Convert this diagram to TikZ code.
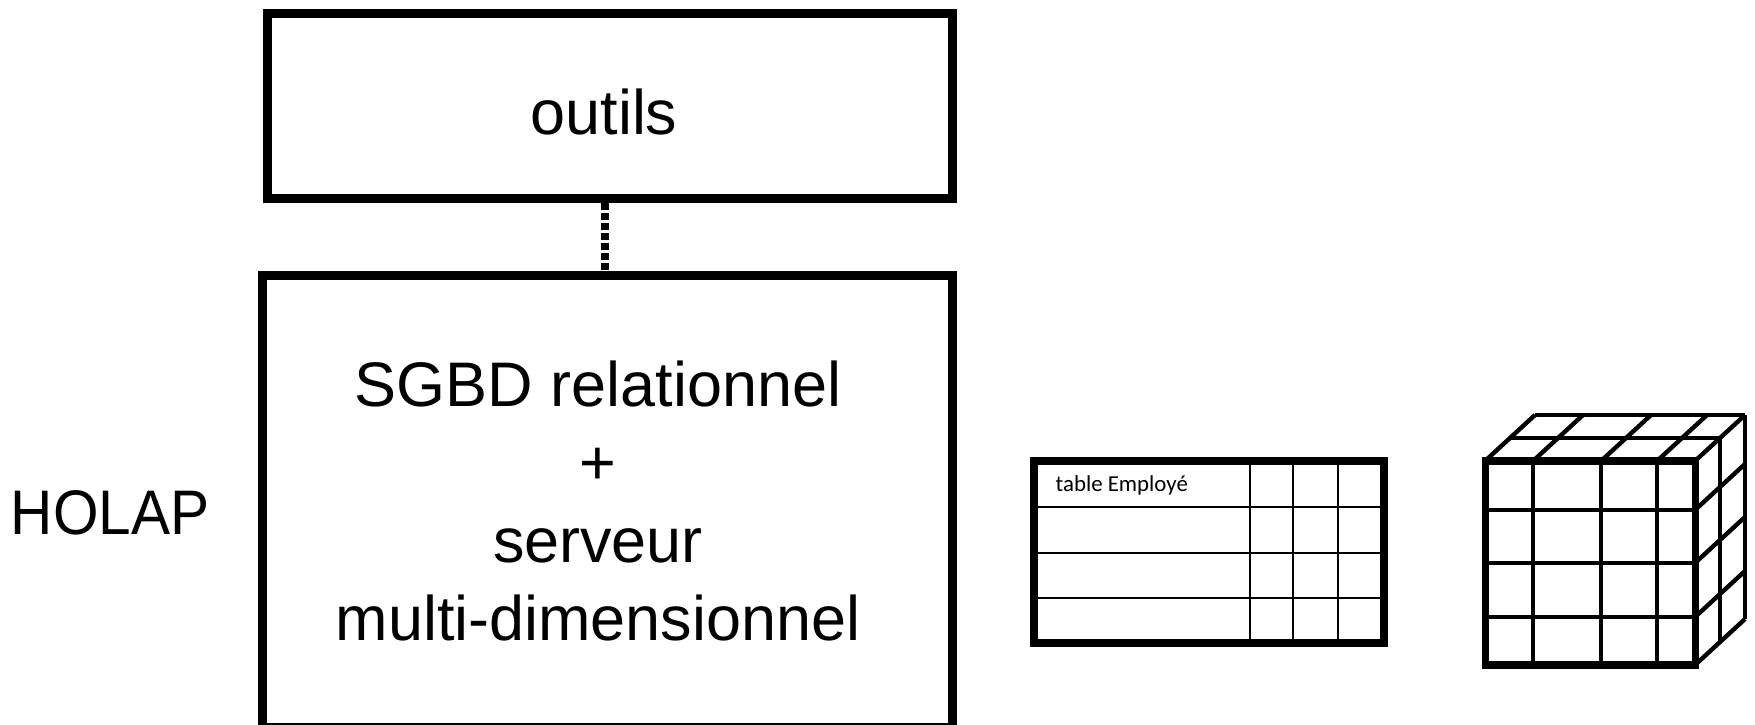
\documentclass[tikz,border=0pt]{standalone}
\usepackage{fontspec}
\setmainfont{Liberation Sans}
\newfontfamily\calib{Carlito}
\begin{document}
\begin{tikzpicture}[x=0.01cm,y=-0.01cm,
  box/.style={draw, line width=2.56pt, inner sep=0pt},
  big/.style={font=\fontsize{17.9}{22.2}\selectfont, inner sep=0pt},
  thin/.style={line width=0.57pt},
  tabborder/.style={line width=2.28pt},
  cubeline/.style={line width=1.25pt},
  cubeborder/.style={line width=2pt},
  dotline/.style={line width=2.3pt, dash pattern=on 2pt off 0.85pt}]
\useasboundingbox (0,0) rectangle (1755,725);
% boxes
\node[box, minimum width=6.855cm, minimum height=1.845cm] (outils) at (610,105.75) {};
\node[big, anchor=base] (outilslabel) at (604,135) {outils};
\node[box, minimum width=6.89cm, minimum height=4.51cm] (sgbd) at (607.5,501.5) {};
\node[big, align=center] (sgbdlabel) at (598,501) {SGBD relationnel\\+\\serveur\\multi-dimensionnel};
\coordinate (dx) at (605,0);
\draw[dotline] (outils.south -| dx) -- (sgbd.north -| dx);
\node[big, anchor=base, xscale=0.93] (holap) at (110,535) {HOLAP};
% table
\foreach \x in {1250,1293,1338} \draw[thin] (\x,461) -- (\x,643);
\foreach \y in {507,553,598} \draw[thin] (1034,\y) -- (1384,\y);
\draw[tabborder] (1034,461) rectangle (1384,643);
\node[font=\calib\fontsize{6.5}{8}\selectfont, anchor=base west, inner sep=0pt] (tabtitle) at (1055,492) {table Employé};
% cube
\foreach \x in {1533,1601,1657} \draw[cubeline] (\x,461) -- (\x,665);
\foreach \y in {510,563,617} \draw[cubeline] (1485,\y) -- (1695,\y);
\foreach \x in {1485,1533,1601,1657,1695} \draw[cubeline] (\x,461) -- (\x+50,415);
\draw[cubeline] (1535,415) -- (1745,415);
\draw[cubeline] (1510,438) -- (1720,438);
\draw[cubeline] (1745,415) -- (1745,619);
\draw[cubeline] (1720,438) -- (1720,642);
\foreach \y in {510,563,617,665} \draw[cubeline] (1695,\y) -- (1745,\y-46);
\draw[cubeborder] (1485,461) rectangle (1695,665);
\end{tikzpicture}
\end{document}
